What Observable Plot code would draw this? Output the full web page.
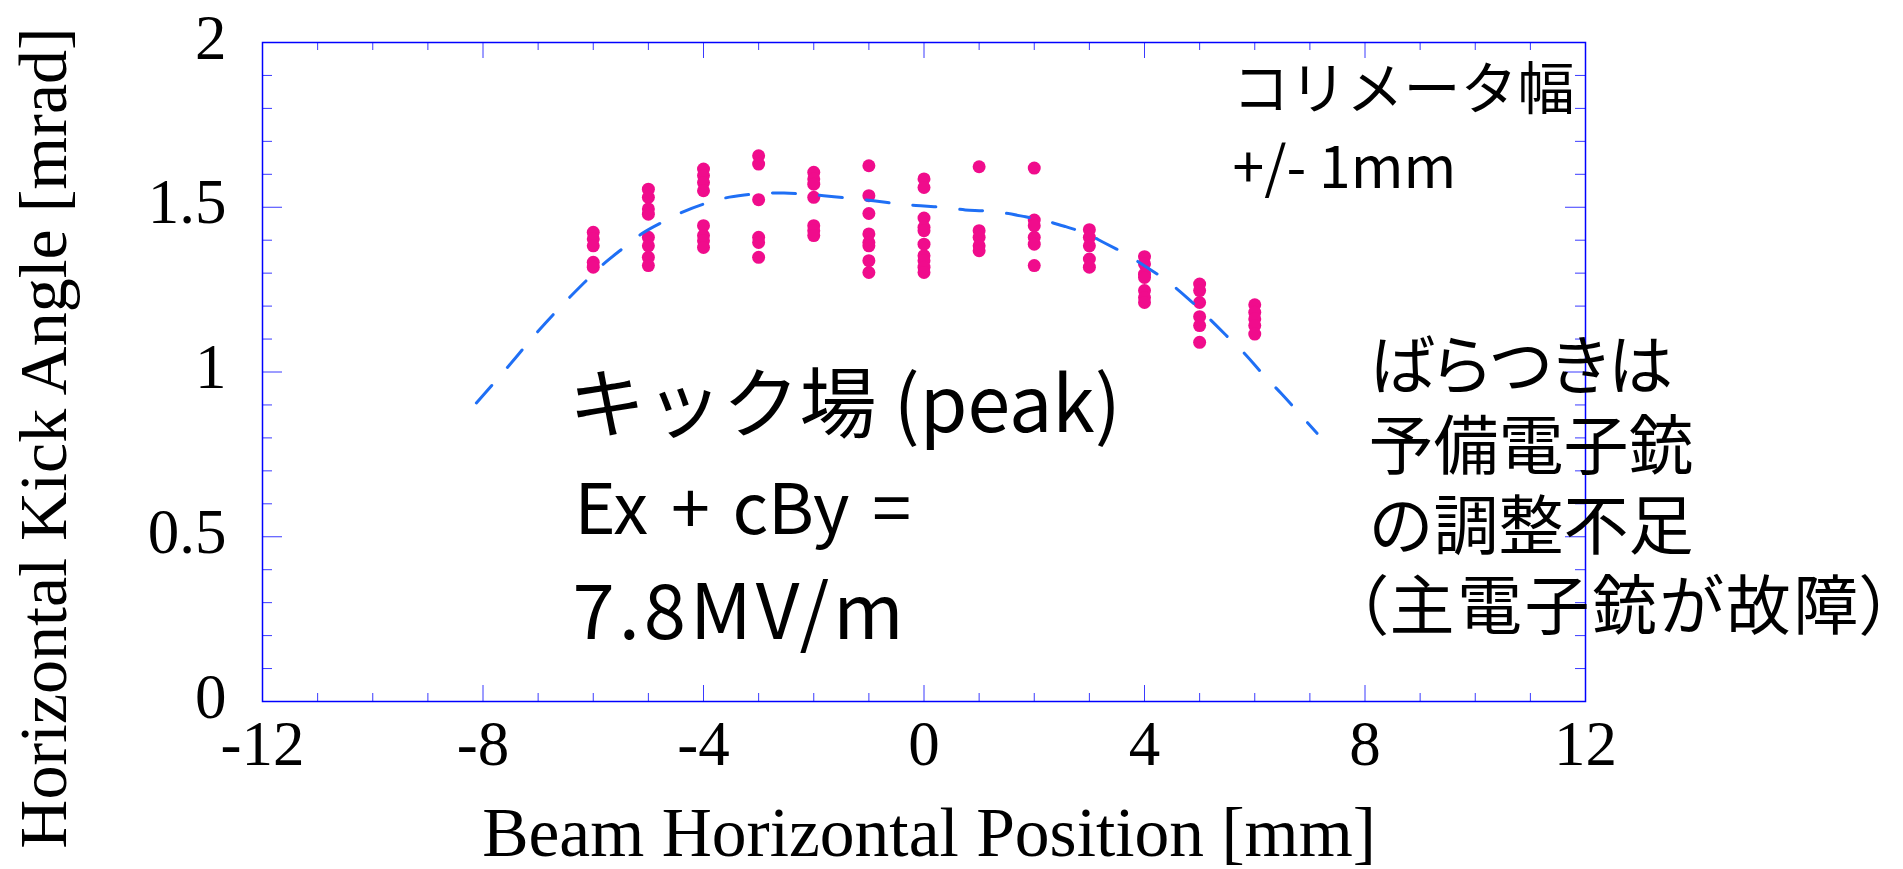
<!DOCTYPE html>
<html><head><meta charset="utf-8">
<script src="https://cdn.jsdelivr.net/npm/d3@7"></script>
<script src="https://cdn.jsdelivr.net/npm/@observablehq/plot@0.6"></script>
<style>
html,body{margin:0;padding:0;background:#fff;}
</style>
</head><body><div id="chart"></div>
<script>
// Beam horizontal position [mm] for each measured column
const positions = [-6, -5, -4, -3, -2, -1, 0, 1, 2, 3, 4, 5, 6];
// Horizontal kick angle [mrad] measurements per position
const kickAngles = [
  [1.424, 1.404, 1.383, 1.333, 1.318],
  [1.555, 1.530, 1.495, 1.479, 1.409, 1.383, 1.348, 1.323],
  [1.616, 1.596, 1.575, 1.550, 1.444, 1.414, 1.398, 1.378],
  [1.656, 1.631, 1.523, 1.409, 1.393, 1.348],
  [1.606, 1.586, 1.570, 1.530, 1.444, 1.429, 1.414],
  [1.626, 1.535, 1.481, 1.419, 1.393, 1.383, 1.338, 1.302],
  [1.586, 1.560, 1.467, 1.439, 1.429, 1.388, 1.353, 1.338, 1.318, 1.302],
  [1.623, 1.429, 1.409, 1.383, 1.368],
  [1.619, 1.461, 1.444, 1.409, 1.388, 1.323],
  [1.432, 1.409, 1.383, 1.343, 1.318],
  [1.350, 1.328, 1.297, 1.287, 1.247, 1.226, 1.211],
  [1.267, 1.247, 1.211, 1.168, 1.141, 1.090],
  [1.204, 1.181, 1.161, 1.141, 1.115]
];
// Dashed fit curve
const fitX = [-8.12, -7.80, -7.47, -7.20, -6.87, -6.53, -6.17, -5.84, -5.44, -5.08, -4.72, -4.37, -3.99, -3.64, -3.26, -2.92, -2.54, -2.18, -1.82, -1.45, -1.09, -0.70, -0.37, 0.00, 0.39, 0.75, 1.09, 1.48, 1.84, 2.20, 2.57, 2.93, 3.26, 3.66, 4.02, 4.38, 4.77, 5.12, 5.47, 5.81, 6.16, 6.49, 6.83, 7.13];
const fitY = [0.906, 0.967, 1.031, 1.085, 1.148, 1.209, 1.270, 1.324, 1.378, 1.424, 1.457, 1.486, 1.510, 1.527, 1.537, 1.542, 1.543, 1.540, 1.535, 1.529, 1.523, 1.515, 1.508, 1.504, 1.499, 1.492, 1.489, 1.482, 1.471, 1.459, 1.441, 1.421, 1.393, 1.358, 1.320, 1.280, 1.226, 1.171, 1.113, 1.057, 0.991, 0.933, 0.870, 0.814];
// Axis ticks
const xTicks = [-12, -8, -4, 0, 4, 8, 12];
const xMinorTicks = [-11, -10, -9, -7, -6, -5, -3, -2, -1, 1, 2, 3, 5, 6, 7, 9, 10, 11];
const yTicks = [0, 0.5, 1, 1.5, 2];
const yMinorTicks = [0.1, 0.2, 0.3, 0.4, 0.6, 0.7, 0.8, 0.9, 1.1, 1.2, 1.3, 1.4, 1.6, 1.7, 1.8, 1.9];
// Texts
const xLabel = "Beam Horizontal Position [mm]";
const yLabel = "Horizontal Kick Angle [mrad]";
const noteCollimator = ["コリメータ幅", "+/- 1mm"];
const noteField = ["キック場 (peak)", "Ex + cBy =", "7.8MV/m"];
const noteSpread = ["ばらつきは", "予備電子銃", "の調整不足", "（主電子銃が故障）"];

const points = positions.flatMap((p, i) => kickAngles[i].map(v => ({x: p, y: v})));
const fit = fitX.map((x, i) => ({x, y: fitY[i]}));

const W = 1903, H = 869, ML = 262, MR = 318, MT = 42, MB = 168;
const FW = W - ML - MR, FH = H - MT - MB;
const tickColor = "#3a3aff";
const serif = "'Liberation Serif', 'Times New Roman', serif";
const jp = "'Noto Sans CJK JP', 'Noto Sans', sans-serif";

const note = (t, dx, dy, size, extra = {}) => Plot.text([t], {
  text: d => d, frameAnchor: "top-left", dx, dy, textAnchor: "start", lineAnchor: "bottom",
  fontSize: size, fontFamily: jp, fill: "black", ...extra
});

const chart = Plot.plot({
  width: W, height: H,
  marginLeft: ML, marginRight: MR, marginTop: MT, marginBottom: MB,
  style: {background: "#fff", overflow: "visible"},
  x: {domain: [-12, 12]},
  y: {domain: [0, 2]},
  marks: [
    Plot.ruleY(yMinorTicks, {stroke: tickColor, strokeWidth: 1, insetRight: FW - 10}),
    Plot.ruleY(yMinorTicks, {stroke: tickColor, strokeWidth: 1, insetLeft: FW - 10}),
    Plot.ruleY(yTicks, {stroke: tickColor, strokeWidth: 1, insetRight: FW - 20}),
    Plot.ruleY(yTicks, {stroke: tickColor, strokeWidth: 1, insetLeft: FW - 20}),
    Plot.ruleX(xMinorTicks, {stroke: tickColor, strokeWidth: 1, insetTop: FH - 8}),
    Plot.ruleX(xMinorTicks, {stroke: tickColor, strokeWidth: 1, insetBottom: FH - 8}),
    Plot.ruleX(xTicks, {stroke: tickColor, strokeWidth: 1, insetTop: FH - 16}),
    Plot.ruleX(xTicks, {stroke: tickColor, strokeWidth: 1, insetBottom: FH - 16}),
    Plot.frame({stroke: "#0000ff", strokeWidth: 1.5}),
    Plot.axisX(xTicks, {tickSize: 0, tickPadding: 19, tickFormat: d => String(d), fontSize: 63, fontFamily: serif, label: null}),
    Plot.axisY(yTicks, {tickSize: 0, tickPadding: 36, tickFormat: d => String(d), fontSize: 63, fontFamily: serif, dy: -4, label: null}),
    Plot.text([xLabel], {text: d => d, frameAnchor: "bottom", dx: 5, dy: 154, lineAnchor: "bottom", fontSize: 69.5, fontFamily: serif, fill: "black"}),
    Plot.text([yLabel], {text: d => d, frameAnchor: "left", rotate: -90, dx: -197, dy: 66, textAnchor: "middle", lineAnchor: "bottom", fontSize: 68, fontFamily: serif, fill: "black"}),
    Plot.dot(points, {x: "x", y: "y", r: 6.5, fill: "#f00c8c", stroke: "none"}),
    Plot.line(fit, {x: "x", y: "y", stroke: "#1f6ff5", strokeWidth: 3, strokeDasharray: "23,24", curve: "catmull-rom"}),
    note(noteCollimator.join("\n"), 970, 145, 57, {lineHeight: 1.37}),
    note(noteField[0], 306, 389, 77),
    note(noteField[1], 312, 491, 70),
    note(noteField[2], 310, 596, 76),
    note(noteSpread.join("\n"), 1106, 586, 65, {lineHeight: 1.226})
  ]
});
document.getElementById("chart").append(chart);
// spacing tweaks as in the slide
chart.querySelectorAll("text").forEach(t => {
  if (t.textContent === noteField[1]) t.style.wordSpacing = "7px";
  if (t.textContent === noteField[2]) t.style.letterSpacing = "4px";
  const spans = t.querySelectorAll("tspan");
  if (spans.length === 4 && spans[3].textContent === noteSpread[3]) {
    spans[0].style.fontFeatureSettings = '"palt" 1';
    spans[3].style.fontFeatureSettings = '"palt" 1';
    spans[3].style.letterSpacing = "2.5px";
    spans[3].setAttribute("x", "-14");
  }
});
</script>
</body></html>
